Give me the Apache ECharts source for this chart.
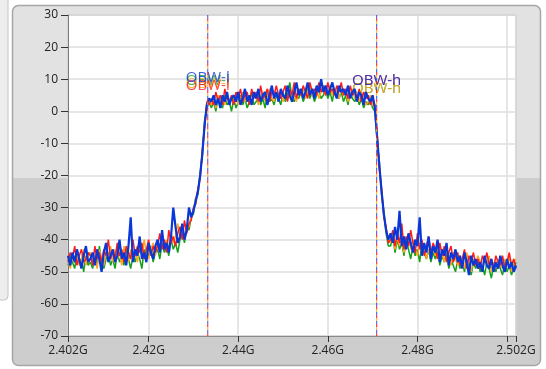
<!DOCTYPE html>
<html>
<head>
<meta charset="utf-8">
<script src="https://cdn.jsdelivr.net/npm/echarts@6/dist/echarts.min.js"></script>
<style>
  html, body { margin: 0; padding: 0; background: #fff; }
  #chart { width: 546px; height: 369px; }
</style>
</head>
<body>
<div id="chart"></div>
<script>
// sweep: 2.402G .. 2.502G, 0.5 MHz per point (201 points)
var sweepStart = 2.402, sweepStep = 0.0005, sweepCount = 201;

var xTickValues = [2.402, 2.42, 2.44, 2.46, 2.48, 2.50, 2.502];
var xLabelValues = [2.402, 2.42, 2.44, 2.46, 2.48, 2.502];

// OBW cursors (low / high edge) and label levels per trace
var obwFreqs = [2.4332, 2.4709];
var obwNames = ['OBW-l', 'OBW-h'];

var traceNames = ['green', 'orange', 'red', 'blue'];
var traceColors = ['#17a01a', '#ffa522', '#ff1a1a', '#0a38d8'];
var traceWidths = [1.5, 1.5, 1.5, 2.2];
var obwLowLevel  = [9.6, 8.5, 8.0, 10.6];
var obwHighLevel = [6.9, 6.9, 9.4, 9.4];

// cursor lines are drawn dashed in these trace colours
var cursorColors = ['#ff1a1a', '#ffa522', '#2a56e8'];

var greenVals = [
  -48, -45, -47, -49, -44, -47, -46, -50, -45, -48,
  -47, -49, -45, -48, -42, -47, -49, -46, -44, -48,
  -46, -49, -44, -47, -45, -48, -43, -46, -49, -45,
  -47, -44, -46, -49, -43, -46, -45, -42, -47, -44,
  -43, -46, -41, -44, -42, -45, -40, -43, -41, -44,
  -40, -38, -41, -36,
  -37, -33, -32, -27, -26, -19, -14, -3, 1, 3,
  1, 3, 0, 4, 2, 1, 5, 2, 3, 0,
  4, 1, 3, 5, 2, 4, 1, 3, 6, 2,
  3, 5, 2, 4, 1, 6, 3, 4, 2, 5,
  4, 2, 6, 3, 5, 9, 4, 3, 5, 4,
  6, 3, 5, 7, 4, 6, 3, 5, 7, 4,
  5, 7, 4, 6, 3, 7, 5, 4, 6, 3,
  5, 2, 6, 4, 3, 5, 2, 4, 1, 3,
  2, 4, 1,
  0, -9, -16, -26, -31, -38, -42,
  -42, -39, -44, -40, -43, -41, -45, -40, -43, -46,
  -42, -45, -43, -47, -41, -44, -46, -43, -47, -44,
  -46, -43, -48, -45, -47, -44, -49, -46, -48, -50,
  -46, -49, -47, -50, -46, -48, -51, -47, -49, -46,
  -50, -48, -51, -47, -49, -52, -48, -50, -47, -49,
  -51, -47, -50, -48, -51, -49, -47
];

var orangeVals = [
  -46, -49, -45, -47, -44, -48, -46, -43, -48, -45,
  -44, -47, -45, -49, -43, -46, -48, -44, -46, -42,
  -47, -43, -46, -44, -48, -42, -45, -47, -43, -46,
  -44, -47, -42, -45, -40, -44, -46, -43, -41, -45,
  -41, -44, -39, -42, -40, -43, -38, -41, -39, -35,
  -39, -37, -40, -35,
  -36, -32, -31, -27, -25, -20, -12, -4, 2, 3,
  2, 4, 1, 5, 3, 4, 2, 5, 3, 4,
  3, 5, 2, 4, 6, 3, 5, 4, 2, 5,
  5, 2, 4, 6, 3, 5, 7, 4, 3, 6,
  4, 6, 3, 5, 7, 4, 6, 5, 3, 6,
  5, 7, 4, 6, 8, 5, 6, 7, 4, 6,
  7, 5, 6, 8, 5, 7, 6, 4, 7, 5,
  6, 3, 5, 7, 4, 5, 3, 6, 4, 2,
  3, 5, 2,
  1, -9, -17, -26, -32, -37, -40,
  -41, -38, -43, -39, -42, -40, -44, -41, -38, -43,
  -40, -43, -45, -41, -44, -42, -46, -43, -45, -42,
  -45, -42, -46, -44, -47, -43, -45, -48, -44, -46,
  -48, -45, -47, -49, -44, -47, -50, -46, -48, -45,
  -47, -49, -46, -48, -45, -50, -47, -49, -46, -48,
  -49, -46, -48, -45, -50, -47, -46
];

var redVals = [
  -47, -44, -46, -42, -48, -45, -43, -47, -46, -44,
  -45, -48, -42, -46, -44, -47, -43, -45, -40, -46,
  -44, -46, -41, -45, -43, -47, -42, -44, -46, -40,
  -45, -42, -44, -41, -46, -43, -40, -45, -42, -44,
  -42, -38, -43, -40, -44, -37, -41, -39, -42, -38,
  -36, -40, -34, -38,
  -35, -34, -30, -29, -24, -21, -12, -5, 3, 2,
  4, 2, 6, 3, 5, 2, 7, 4, 3, 5,
  2, 6, 4, 7, 3, 5, 6, 2, 7, 4,
  6, 3, 8, 4, 5, 7, 3, 6, 5, 8,
  5, 4, 6, 8, 3, 7, 5, 9, 4, 7,
  5, 8, 6, 4, 9, 6, 7, 5, 9, 6,
  8, 5, 9, 6, 7, 5, 8, 6, 9, 5,
  7, 4, 8, 5, 6, 4, 7, 3, 6, 4,
  5, 2, 4,
  2, -7, -18, -24, -33, -36, -41,
  -40, -37, -42, -38, -41, -35, -43, -39, -42, -37,
  -41, -44, -38, -43, -40, -45, -42, -39, -44, -41,
  -43, -46, -41, -45, -42, -47, -44, -42, -47, -45,
  -44, -48, -46, -43, -49, -45, -47, -44, -48, -46,
  -49, -45, -47, -44, -48, -46, -49, -45, -47, -48,
  -45, -49, -47, -44, -48, -46, -49
];

var blueVals = [
  -45, -48, -44, -47, -43, -46, -49, -45, -42, -47,
  -46, -44, -48, -43, -46, -50, -44, -41, -47, -45,
  -43, -47, -45, -40, -46, -44, -48, -42, -33, -47,
  -43, -45, -39, -46, -44, -47, -41, -44, -46, -42,
  -40, -44, -37, -43, -41, -44, -39, -30, -36, -41,
  -39, -35, -40, -37,
  -30, -33, -31, -28, -25, -20, -13, -4, 2, 4,
  3, 5, 2, 4, 1, 5, 3, 6, 2, 4,
  5, 3, 6, 2, 4, 7, 3, 5, 2, 6,
  4, 7, 3, 5, 6, 2, 5, 8, 4, 6,
  3, 7, 5, 4, 8, 5, 3, 6, 9, 5,
  7, 4, 6, 9, 5, 7, 4, 8, 6, 10,
  6, 8, 5, 7, 9, 6, 4, 8, 6, 7,
  5, 8, 4, 6, 7, 3, 6, 5, 2, 6,
  4, 3, 5,
  1, -8, -17, -25, -32, -37, -40,
  -38, -41, -36, -40, -31, -42, -39, -43, -38, -41,
  -44, -40, -42, -33, -45, -41, -44, -39, -46, -42,
  -44, -40, -47, -43, -45, -41, -48, -44, -46, -43,
  -47, -45, -49, -44, -47, -51, -45, -48, -46, -49,
  -47, -50, -45, -48, -49, -46, -50, -47, -49, -45,
  -48, -50, -46, -49, -47, -50, -48
];

var traceVals = [greenVals, orangeVals, redVals, blueVals];
var yMin = -70, yMax = 30;

var freqs = [];
for (var i = 0; i < sweepCount; i++) {
  freqs.push(+(sweepStart + i * sweepStep).toFixed(4));
}

var chart = echarts.init(document.getElementById('chart'));

var series = [];

// dashed cursor lines, one colour per dash phase
obwFreqs.forEach(function (f) {
  cursorColors.forEach(function (c, k) {
    series.push({
      type: 'line',
      data: [[f, yMin], [f, yMax]],
      symbol: 'none',
      silent: true,
      z: 10,
      lineStyle: { color: c, width: 1, type: [3, 6], dashOffset: k * 3 }
    });
  });
});

traceVals.forEach(function (vals, k) {
  series.push({
    name: traceNames[k],
    type: 'line',
    data: vals.map(function (v, i) { return [freqs[i], v]; }),
    symbol: 'none',
    lineStyle: { width: traceWidths[k], color: traceColors[k] },
    itemStyle: { color: traceColors[k] },
    z: 2 + k,
    markPoint: {
      symbol: 'circle',
      symbolSize: 0,
      silent: true,
      label: {
        show: true,
        position: 'inside',
        color: traceColors[k],
        opacity: 0.8,
        fontSize: 15,
        fontFamily: 'Open Sans',
        formatter: function (p) { return p.name; }
      },
      data: [
        { name: obwNames[0], coord: [obwFreqs[0], obwLowLevel[k]] },
        { name: obwNames[1], coord: [obwFreqs[1], obwHighLevel[k]] }
      ]
    }
  });
});

chart.setOption({
  animation: false,
  backgroundColor: '#fff',
  graphic: [
    { type: 'rect', z: -10, shape: { x: -6, y: -6, width: 14, height: 306, r: 4 },
      style: { fill: '#ededed', stroke: '#c4c4c4', lineWidth: 1 } },
    { type: 'rect', z: -10, shape: { x: 12.5, y: 5.5, width: 528, height: 360, r: 6 },
      style: {
        fill: new echarts.graphic.LinearGradient(0, 0, 0, 1, [
          { offset: 0, color: '#e2e2e2' },
          { offset: 0.478, color: '#e2e2e2' },
          { offset: 0.48, color: '#cdcdcd' },
          { offset: 1, color: '#cdcdcd' }
        ]),
        stroke: '#a6a6a6', lineWidth: 1.5
      } }
  ],
  grid: {
    left: 68, right: 30, top: 15, bottom: 33,
    show: true, backgroundColor: '#fff', borderColor: '#9a9a9a', borderWidth: 1
  },
  xAxis: {
    type: 'value',
    min: 2.402, max: 2.502,
    axisLine: { show: true, onZero: false, lineStyle: { color: '#8a8a8a' } },
    axisTick: { show: true, length: 6, customValues: xTickValues, lineStyle: { color: '#333' } },
    axisLabel: {
      customValues: xLabelValues,
      margin: 9, color: '#222', fontSize: 12, fontFamily: 'Open Sans',
      formatter: function (v) { return (+v.toFixed(3)) + 'G'; }
    },
    splitLine: { show: true, lineStyle: { color: '#dedede', width: 1.5 } }
  },
  yAxis: {
    type: 'value',
    min: yMin, max: yMax, interval: 10,
    axisLine: { show: true, onZero: false, lineStyle: { color: '#7a7a7a' } },
    axisTick: { show: true, length: 7, lineStyle: { color: '#333' } },
    axisLabel: { margin: 10, color: '#222', fontSize: 12, fontFamily: 'Open Sans' },
    splitLine: { show: true, lineStyle: { color: '#dedede', width: 1.5 } }
  },
  series: series
});
</script>
</body>
</html>
